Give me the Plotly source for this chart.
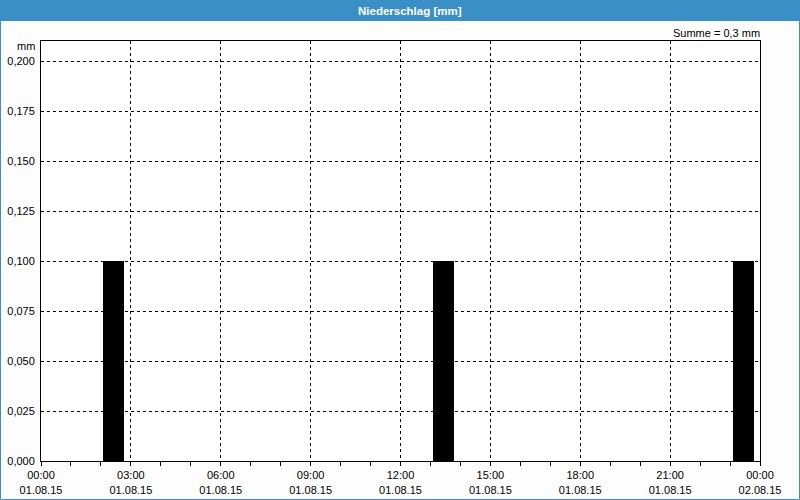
import plotly.graph_objects as go

# Data
bar_times = ["2015-08-01 02:25", "2015-08-01 13:26", "2015-08-01 23:27"]
bar_values = [0.1, 0.1, 0.1]
x_tick_times = ["2015-08-01 00:00", "2015-08-01 03:00", "2015-08-01 06:00", "2015-08-01 09:00",
                "2015-08-01 12:00", "2015-08-01 15:00", "2015-08-01 18:00", "2015-08-01 21:00",
                "2015-08-02 00:00"]
x_tick_labels = ["00:00<br>01.08.15", "03:00<br>01.08.15", "06:00<br>01.08.15", "09:00<br>01.08.15",
                 "12:00<br>01.08.15", "15:00<br>01.08.15", "18:00<br>01.08.15", "21:00<br>01.08.15",
                 "00:00<br>02.08.15"]
y_ticks = [0.0, 0.025, 0.05, 0.075, 0.1, 0.125, 0.15, 0.175, 0.2]
title_text = "Niederschlag [mm]"
sum_text = "Summe = 0,3 mm"
unit_text = "mm"

W, H = 800, 500
L, R, T, B = 41, 40, 41, 39
PH = H - T - B
PW = W - L - R
FONT = "Liberation Sans"
BLUE = "#3b8fc7"

fig = go.Figure()
fig.add_trace(go.Bar(
    x=bar_times, y=bar_values, width=0.7 * 3600000,
    marker=dict(color="black", line=dict(width=0)),
    hoverinfo="skip",
))

def py(px):  # pixel y from top -> paper
    return 1 - (px - T) / PH

def px_(x):  # pixel x from left -> paper
    return (x - L) / PW

fig.update_layout(
    width=W, height=H,
    margin=dict(l=L, r=R, t=T, b=B, autoexpand=False),
    paper_bgcolor="#fcfdfc",
    plot_bgcolor="white",
    separators=",.",
    showlegend=False,
    font=dict(family=FONT, size=11, color="black"),
    bargap=0,
    xaxis=dict(
        type="date", automargin=False,
        range=["2015-08-01 00:00", "2015-08-02 00:00"],
        tickvals=x_tick_times, ticktext=x_tick_labels,
        showgrid=True, gridcolor="black", griddash="3px,3px", gridwidth=1,
        showline=True, linecolor="black", linewidth=1, mirror=True,
        ticks="", zeroline=False, ticklabelstandoff=4,
        minor=dict(dtick=3600000, ticks="outside", ticklen=4, tickcolor="black", showgrid=False),
        tickfont=dict(family=FONT, size=11, color="black"),
    ),
    yaxis=dict(
        automargin=False,
        range=[0, 0.21],
        tickvals=y_ticks, tickformat=".3f",
        showgrid=True, gridcolor="black", griddash="3px,3px", gridwidth=1,
        showline=True, linecolor="black", linewidth=1, mirror=True,
        ticks="", zeroline=False, ticklabelstandoff=3,
        tickfont=dict(family=FONT, size=11, color="black"),
    ),
    shapes=[
        dict(type="rect", xref="paper", yref="paper",
             x0=px_(0), x1=px_(W), y0=py(21), y1=py(0),
             fillcolor=BLUE, line=dict(width=0), layer="below"),
        dict(type="rect", xref="paper", yref="paper",
             x0=px_(0.5), x1=px_(W - 0.5), y0=py(H - 0.5), y1=py(0.5),
             fillcolor="rgba(0,0,0,0)", line=dict(width=1, color=BLUE)),
    ],
    annotations=[
        dict(text="<b>" + title_text + "</b>", xref="paper", yref="paper",
             x=px_(410), y=py(10.5), xanchor="center", yanchor="middle",
             showarrow=False, font=dict(family=FONT, size=11.5, color="white")),
        dict(text=sum_text, xref="paper", yref="paper",
             x=px_(762), y=py(32.5), xanchor="right", yanchor="middle",
             showarrow=False, font=dict(family=FONT, size=11, color="black")),
        dict(text=unit_text, xref="paper", yref="paper",
             x=px_(37), y=py(46), xanchor="right", yanchor="middle",
             showarrow=False, font=dict(family=FONT, size=11, color="black")),
    ],
)

fig.write_html("out.html")
